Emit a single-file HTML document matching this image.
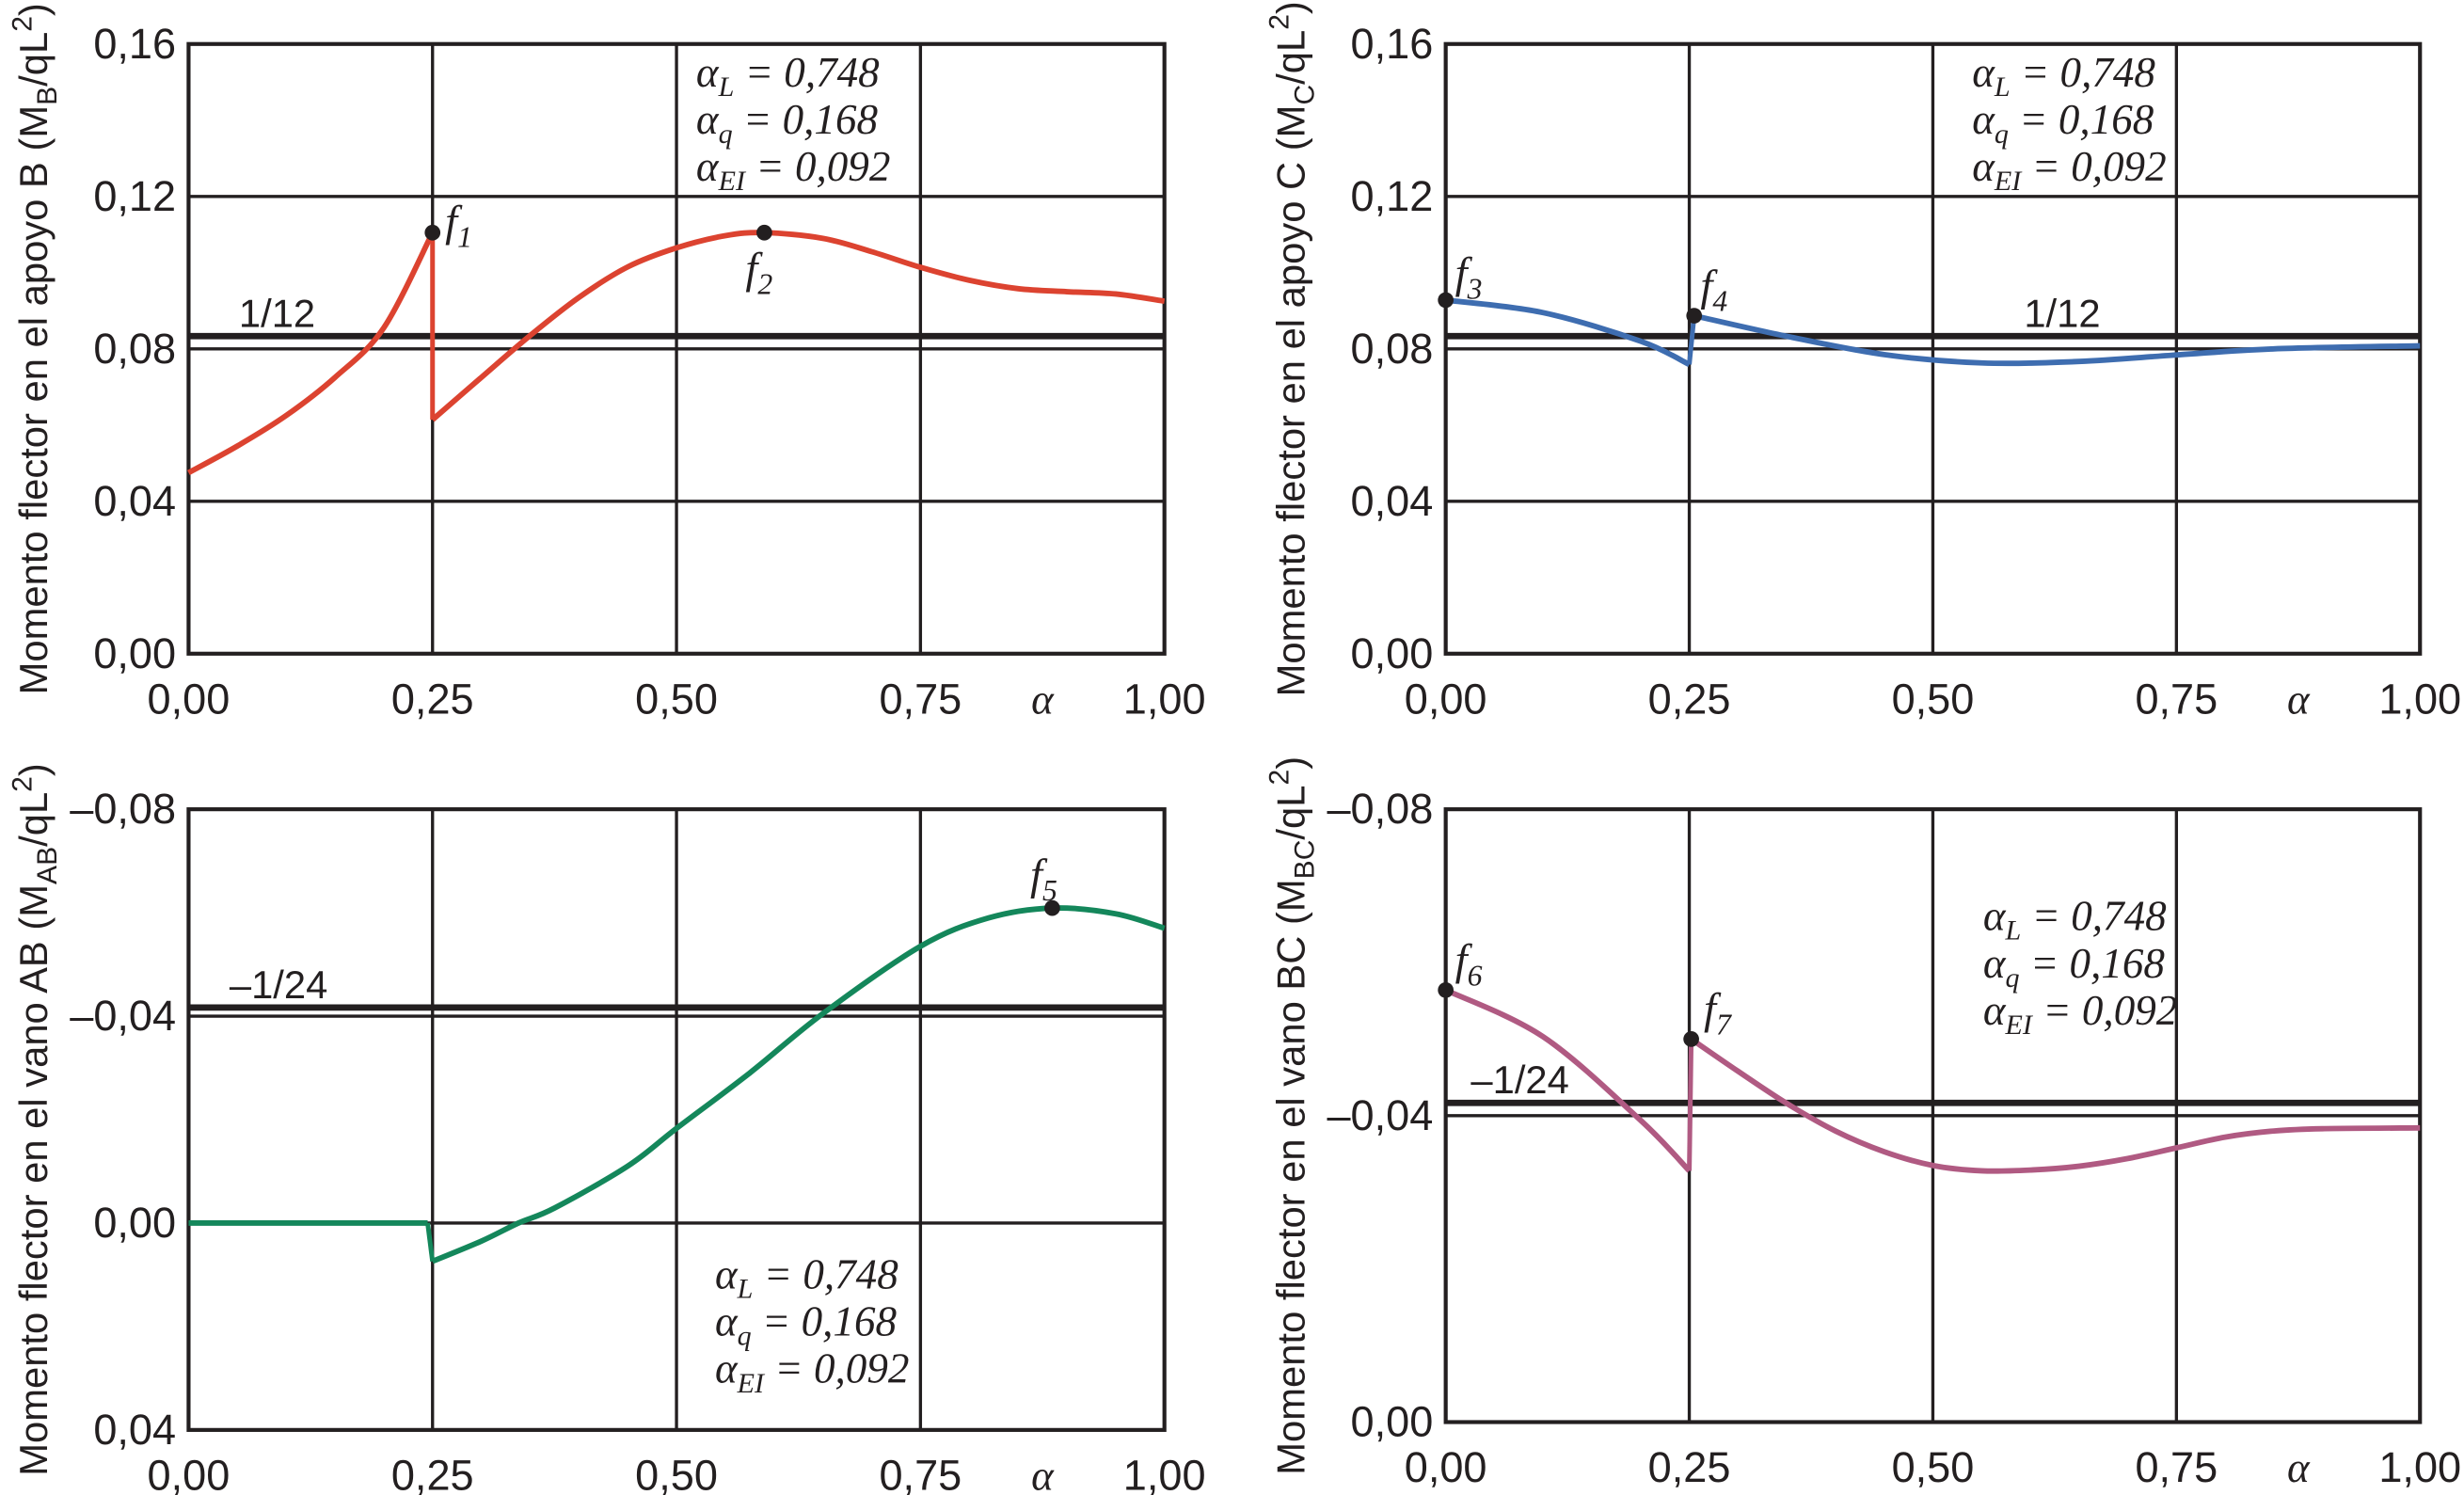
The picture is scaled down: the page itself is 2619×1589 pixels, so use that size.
<!DOCTYPE html>
<html><head><meta charset="utf-8"><style>
html,body{margin:0;padding:0;background:#fff;}
svg{display:block;}
text{font-family:"Liberation Sans",sans-serif;fill:#231f20;}
.it{font-family:"Liberation Serif",serif;font-style:italic;}
</style></head><body>
<svg id="chart" width="2619" height="1589" viewBox="0 0 1568 951.4" preserveAspectRatio="none" xmlns="http://www.w3.org/2000/svg"></svg>
<script>
// ---- data ----
const xTicks = [0, 0.25, 0.5, 0.75, 1.0];
const xTickLabels = ["0,00", "0,25", "0,50", "0,75", "1,00"];

const mbX1 = [0, 0.05, 0.1, 0.15, 0.2, 0.25];
const mbY1 = [0.0475, 0.0545, 0.0625, 0.0725, 0.0855, 0.1105];
const mbX2 = [0.25, 0.3, 0.35, 0.4, 0.45, 0.5, 0.55, 0.59, 0.65, 0.7, 0.75, 0.8, 0.85, 0.9, 0.95, 1.0];
const mbY2 = [0.0614, 0.0725, 0.0835, 0.0935, 0.1015, 0.1065, 0.1097, 0.1105, 0.109, 0.1055, 0.1014, 0.098, 0.0958, 0.095, 0.0944, 0.0925];

const mcX1 = [0, 0.1, 0.2, 0.25];
const mcY1 = [0.0928, 0.0895, 0.082, 0.0759];
const mcX2 = [0.255, 0.35, 0.45, 0.55, 0.65, 0.75, 0.85, 1.0];
const mcY2 = [0.0887, 0.0833, 0.0785, 0.0763, 0.0767, 0.0784, 0.0800, 0.0808];

const mabX1 = [0, 0.245];
const mabY1 = [0, 0];
const mabX2 = [0.25, 0.3, 0.338, 0.375, 0.45, 0.5, 0.575, 0.65, 0.75, 0.82, 0.885, 0.95, 1.0];
const mabY2 = [0.0074, 0.0035, 0, -0.0029, -0.011, -0.0183, -0.029, -0.0405, -0.0535, -0.059, -0.0609, -0.0598, -0.057];

const mbcX1 = [0, 0.1, 0.2, 0.25];
const mbcY1 = [-0.0564, -0.0503, -0.0394, -0.0328];
const mbcX2 = [0.252, 0.3, 0.35, 0.4, 0.45, 0.5, 0.55, 0.6, 0.65, 0.7, 0.75, 0.8, 0.85, 0.9, 1.0];
const mbcY2 = [-0.050, -0.0458, -0.0416, -0.038, -0.0353, -0.0335, -0.0328, -0.0329, -0.0334, -0.0344, -0.0358, -0.0372, -0.038, -0.0383, -0.0384];

const yTicksTop = [0, 0.04, 0.08, 0.12, 0.16];
const yTickLabelsTop = ["0,00", "0,04", "0,08", "0,12", "0,16"];
const yTicksAB = [-0.08, -0.04, 0, 0.04];
const yTickLabelsAB = ["\u20130,08", "\u20130,04", "0,00", "0,04"];
const yTicksBC = [-0.08, -0.04, 0];
const yTickLabelsBC = ["\u20130,08", "\u20130,04", "0,00"];

const NS = "http://www.w3.org/2000/svg";
const svg = document.getElementById("chart");
function mk(tag, attrs, parent) {
  const e = document.createElementNS(NS, tag);
  for (const k in attrs) e.setAttribute(k, attrs[k]);
  (parent || svg).appendChild(e);
  return e;
}
function path(xs, ys, sx, sy) {
  const p = xs.map((x, i) => [sx(x), sy(ys[i])]);
  let d = "M" + p[0][0] + "," + p[0][1];
  for (let i = 0; i < p.length - 1; i++) {
    const p0 = p[i - 1] || p[i], p1 = p[i], p2 = p[i + 1], p3 = p[i + 2] || p2;
    const c1 = [p1[0] + (p2[0] - p0[0]) / 6, p1[1] + (p2[1] - p0[1]) / 6];
    const c2 = [p2[0] - (p3[0] - p1[0]) / 6, p2[1] - (p3[1] - p1[1]) / 6];
    d += " C" + c1 + " " + c2 + " " + p2;
  }
  return d;
}

function panel(cfg) {
  const g = mk("g", {});
  
  
  const sx = v => cfg.x0 + (cfg.x1 - cfg.x0) * v;
  const sy = v => cfg.yA + (v - cfg.dA) * (cfg.yB - cfg.yA) / (cfg.dB - cfg.dA);
  xTicks.forEach((t, i) => {
    const l = mk("line", {x1: sx(t), x2: sx(t), y1: cfg.top, y2: cfg.bot, stroke: "#231f20", "stroke-width": 2}, g);
    
    
    const tx = mk("text", {x: sx(t), y: cfg.bot + 38, "font-size": 27, "text-anchor": "middle"}, g);
    
    
    tx.textContent = xTickLabels[i];
  });
  cfg.yt.forEach((t, i) => {
    const l = mk("line", {x1: cfg.x0, x2: cfg.x1, y1: sy(t), y2: sy(t), stroke: "#231f20", "stroke-width": 2}, g);
    
    
    const tx = mk("text", {x: cfg.x0 - 8, y: sy(t) + 9, "font-size": 27, "text-anchor": "end"}, g);
    
    
    tx.textContent = cfg.ytl[i];
  });
  const fr = mk("rect", {x: cfg.x0, y: cfg.top, width: cfg.x1 - cfg.x0, height: cfg.bot - cfg.top, fill: "none", stroke: "#231f20", "stroke-width": 2.5}, g);
  
  
  const a = mk("text", {x: sx(0.875), y: cfg.bot + 38, "font-size": 27, "text-anchor": "middle", "class": "it"}, g);
  
  
  a.textContent = "\u03b1";
  const rl = mk("line", {x1: cfg.x0, x2: cfg.x1, y1: sy(cfg.ref), y2: sy(cfg.ref), stroke: "#231f20", "stroke-width": 4}, g);
  
  
  const rt = mk("text", {x: cfg.refLx, y: sy(cfg.ref) - 6, "font-size": 25}, g);
  
  
  rt.textContent = cfg.refLabel;
  cfg.series.forEach(s => {
    const p = mk("path", {d: path(s[0], s[1], sx, sy), fill: "none", stroke: cfg.color, "stroke-width": 3.5, "stroke-linejoin": "round"}, g);
    
    
  });
  const j = cfg.series;
  const jl = mk("line", {x1: sx(j[0][0][j[0][0].length - 1]), y1: sy(j[0][1][j[0][1].length - 1]), x2: sx(j[1][0][0]), y2: sy(j[1][1][0]), stroke: cfg.color, "stroke-width": 3}, g);
  
  
  cfg.pts.forEach(pt => {
    const c = mk("circle", {cx: sx(pt[0]), cy: sy(pt[1]), r: 5, fill: "#231f20"}, g);
    
    
    const t = mk("text", {x: sx(pt[0]) + pt[3], y: sy(pt[1]) + pt[4], "font-size": 28, "class": "it"}, g);
    
    
    t.innerHTML = 'f<tspan font-size="19" dy="7">' + pt[2] + '</tspan>';
  });
  const an = mk("text", {x: cfg.ann[0], y: cfg.ann[1], "font-size": 27, "class": "it"}, g);
  
  
  an.innerHTML =
    '<tspan x="' + cfg.ann[0] + '">\u03b1<tspan font-size="18" dy="6">L</tspan><tspan dy="-6"> = 0,748</tspan></tspan>' +
    '<tspan x="' + cfg.ann[0] + '" dy="30">\u03b1<tspan font-size="18" dy="6">q</tspan><tspan dy="-6"> = 0,168</tspan></tspan>' +
    '<tspan x="' + cfg.ann[0] + '" dy="30">\u03b1<tspan font-size="18" dy="6">EI</tspan><tspan dy="-6"> = 0,092</tspan></tspan>';
  const cy = (cfg.top + cfg.bot) / 2;
  const yt = mk("text", {x: 0, y: 0, "font-size": 25, "text-anchor": "middle", transform: "translate(" + (cfg.x0 - 90) + "," + cy + ") rotate(-90)"}, g);
  
  
  yt.innerHTML = cfg.title + ' (M<tspan font-size="18" dy="6">' + cfg.sub + '</tspan><tspan dy="-6">/qL</tspan><tspan font-size="18" dy="-10">2</tspan><tspan dy="10">)</tspan>';
}

panel({name: "panel-mb", x0: 120, x1: 741, top: 28, bot: 416, dA: 0, yA: 416, dB: 0.16, yB: 28,
  yt: yTicksTop, ytl: yTickLabelsTop, ref: 1/12, refLabel: "1/12", refLx: 152, color: "#dc4330",
  series: [[mbX1, mbY1], [mbX2, mbY2]], pts: [[0.25, 0.1105, "1", 8, 2], [0.59, 0.1105, "2", -12, 32]],
  ann: [443, 55], title: "Momento flector en el apoyo B", sub: "B"});
panel({name: "panel-mc", x0: 920, x1: 1540, top: 28, bot: 416, dA: 0, yA: 416, dB: 0.16, yB: 28,
  yt: yTicksTop, ytl: yTickLabelsTop, ref: 1/12, refLabel: "1/12", refLx: 1288, color: "#3e6db0",
  series: [[mcX1, mcY1], [mcX2, mcY2]], pts: [[0, 0.0928, "3", 6, -8], [0.255, 0.0887, "4", 4, -10]],
  ann: [1255, 55], title: "Momento flector en el apoyo C", sub: "C"});
panel({name: "panel-mab", x0: 120, x1: 741, top: 515, bot: 910, dA: -0.08, yA: 515, dB: 0.04, yB: 910,
  yt: yTicksAB, ytl: yTickLabelsAB, ref: -1/24, refLabel: "\u20131/24", refLx: 146, color: "#14875b",
  series: [[mabX1, mabY1], [mabX2, mabY2]], pts: [[0.885, -0.0609, "5", -14, -12]],
  ann: [455, 820], title: "Momento flector en el vano AB", sub: "AB"});
panel({name: "panel-mbc", x0: 920, x1: 1540, top: 515, bot: 905, dA: -0.08, yA: 515, dB: 0, yB: 905,
  yt: yTicksBC, ytl: yTickLabelsBC, ref: -1/24, refLabel: "\u20131/24", refLx: 936, color: "#b05a82",
  series: [[mbcX1, mbcY1], [mbcX2, mbcY2]], pts: [[0, -0.0564, "6", 6, -10], [0.252, -0.050, "7", 8, -10]],
  ann: [1262, 592], title: "Momento flector en el vano BC", sub: "BC"});
</script>
</body></html>
